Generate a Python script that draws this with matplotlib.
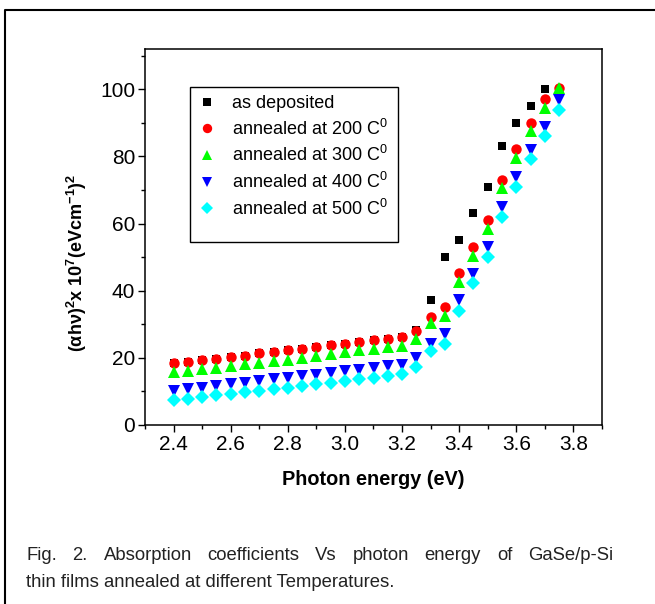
import matplotlib
matplotlib.use('Agg')
import matplotlib.pyplot as plt
from matplotlib.lines import Line2D
from matplotlib.patches import Rectangle

plt.rcParams['font.family'] = ['Liberation Sans', 'DejaVu Sans']
plt.rcParams['mathtext.fontset'] = 'custom'
plt.rcParams['mathtext.rm'] = 'Liberation Sans'
plt.rcParams['mathtext.it'] = 'Liberation Sans:italic'
plt.rcParams['mathtext.bf'] = 'Liberation Sans:bold'

# Datos
energia = [2.40, 2.45, 2.50, 2.55, 2.60, 2.65, 2.70, 2.75, 2.80, 2.85,
           2.90, 2.95, 3.00, 3.05, 3.10, 3.15, 3.20, 3.25, 3.30, 3.35,
           3.40, 3.45, 3.50, 3.55, 3.60, 3.65, 3.70, 3.75]

as_dep = [18.4, 18.8, 19.3, 19.8, 20.2, 20.7, 21.3, 21.7, 22.2, 22.7,
          23.2, 23.7, 24.2, 24.8, 25.3, 25.7, 26.3, 28.2, 37.1, 50.1,
          55.1, 63.1, 71.0, 83.0, 90.0, 95.0, 100.0]
t200 = [18.4, 18.8, 19.3, 19.8, 20.2, 20.7, 21.3, 21.7, 22.2, 22.7,
        23.2, 23.7, 24.2, 24.8, 25.3, 25.7, 26.3, 28.1, 32.2, 35.2,
        45.2, 53.1, 61.1, 73.1, 82.1, 90.0, 97.0, 100.3]
t300 = [15.7, 16.1, 16.6, 17.1, 17.5, 18.1, 18.6, 19.0, 19.5, 20.0,
        20.5, 21.2, 21.6, 22.4, 22.7, 23.1, 23.6, 25.6, 30.5, 32.5,
        42.7, 50.4, 58.5, 70.5, 79.5, 87.5, 94.4, 100.3]
t400 = [10.1, 10.6, 11.1, 11.6, 12.1, 12.5, 13.1, 13.6, 14.0, 14.5,
        15.0, 15.5, 16.0, 16.4, 17.0, 17.5, 18.0, 19.9, 24.1, 27.2,
        37.1, 45.1, 52.9, 64.9, 73.8, 81.9, 88.9, 96.8]
t500 = [7.3, 7.8, 8.2, 8.8, 9.2, 9.7, 10.2, 10.7, 11.1, 11.6,
        12.1, 12.6, 13.1, 13.6, 14.1, 14.6, 15.2, 17.2, 22.1, 24.2,
        34.1, 42.2, 50.0, 62.1, 71.0, 79.1, 86.0, 93.9]

etiquetas = ['as deposited', 'annealed at 200 C$^0$', 'annealed at 300 C$^0$',
             'annealed at 400 C$^0$', 'annealed at 500 C$^0$']
series = [as_dep, t200, t300, t400, t500]
colores = ['black', '#ff0000', '#00ff00', '#0000ff', '#00ffff']
marcadores = ['s', 'o', '^', 'v', 'D']
tamanos = [6, 7.5, 8, 8, 7]

x_ticks = [2.4, 2.6, 2.8, 3.0, 3.2, 3.4, 3.6, 3.8]
y_ticks = [0, 20, 40, 60, 80, 100]

pie = ['Fig. 2. Absorption coefficients Vs photon energy of GaSe/p-Si',
       'thin films annealed at different Temperatures.']

W, H = 655, 604
fig = plt.figure(figsize=(W / 100, H / 100), dpi=100)
ax = fig.add_axes([145 / W, 1 - 425 / H, 457 / W, 376 / H])

for ys, lab, c, m, s in zip(series, etiquetas, colores, marcadores, tamanos):
    ax.plot(energia[:len(ys)], ys, linestyle='none', marker=m, color=c,
            markersize=s, markeredgewidth=0, label=lab)

ax.set_xlim(2.3, 3.9)
ax.set_ylim(0, 112)
ax.set_xticks(x_ticks)
ax.set_xticklabels([f'{v:.1f}' for v in x_ticks])
ax.set_yticks(y_ticks)
ax.set_xticks([2.3 + 0.1 * i for i in range(17)], minor=True)
ax.set_yticks([10, 30, 50, 70, 90, 110], minor=True)
ax.tick_params(which='major', direction='out', length=5, width=1,
               labelsize=15, pad=2)
ax.tick_params(which='minor', direction='out', length=3, width=1)
for sp in ax.spines.values():
    sp.set_linewidth(1.1)

ax.set_xlabel('Photon energy (eV)', fontsize=14.3, fontweight='bold')
ax.xaxis.set_label_coords(0.5, -0.144)
ax.xaxis.label.set_va('center')
ax.set_ylabel(r'$\mathbf{(\alpha h\nu)^2x\ 10^7(eVcm^{-1})^2}$', fontsize=13)
ax.yaxis.set_label_coords(-0.149, 0.432)
ax.yaxis.label.set_va('center')

# Leyenda sin marco; el marco se dibuja aparte (mas alto que el contenido)
leg = ax.legend(loc='upper left', bbox_to_anchor=(0.0985, 0.899),
                borderaxespad=0, fontsize=13, frameon=False,
                handlelength=1.0, handletextpad=0.9, labelspacing=0.36,
                borderpad=0.45, markerscale=0.9)
caja = Rectangle((190 / W, 1 - 242 / H), 208 / W, 155 / H, transform=fig.transFigure,
                 fill=False, edgecolor='black', lw=1)
fig.add_artist(caja)

# Marco exterior (solo arriba e izquierda visibles)
fig.add_artist(Line2D([5 / W, 5 / W, 1.0], [0.0, 1 - 10 / H, 1 - 10 / H],
                      transform=fig.transFigure, color='black', lw=1.5))

# Pie de figura, justificado en la primera linea
tam = 13.3
r = fig.canvas.get_renderer()
x0, x1 = 26, 613
palabras = pie[0].split()
textos = [fig.text(0, 1 - 560 / H, p, fontsize=tam, va='baseline',
                   color='#222222') for p in palabras]
anchos = [t.get_window_extent(r).width for t in textos]
hueco = (x1 - x0 - sum(anchos)) / (len(palabras) - 1)
xp = x0
for t, a in zip(textos, anchos):
    t.set_x(xp / W)
    xp += a + hueco
fig.text(x0 / W, 1 - 587 / H, pie[1], fontsize=tam,
         va='baseline', color='#222222')

fig.savefig('out.png', dpi=100)
